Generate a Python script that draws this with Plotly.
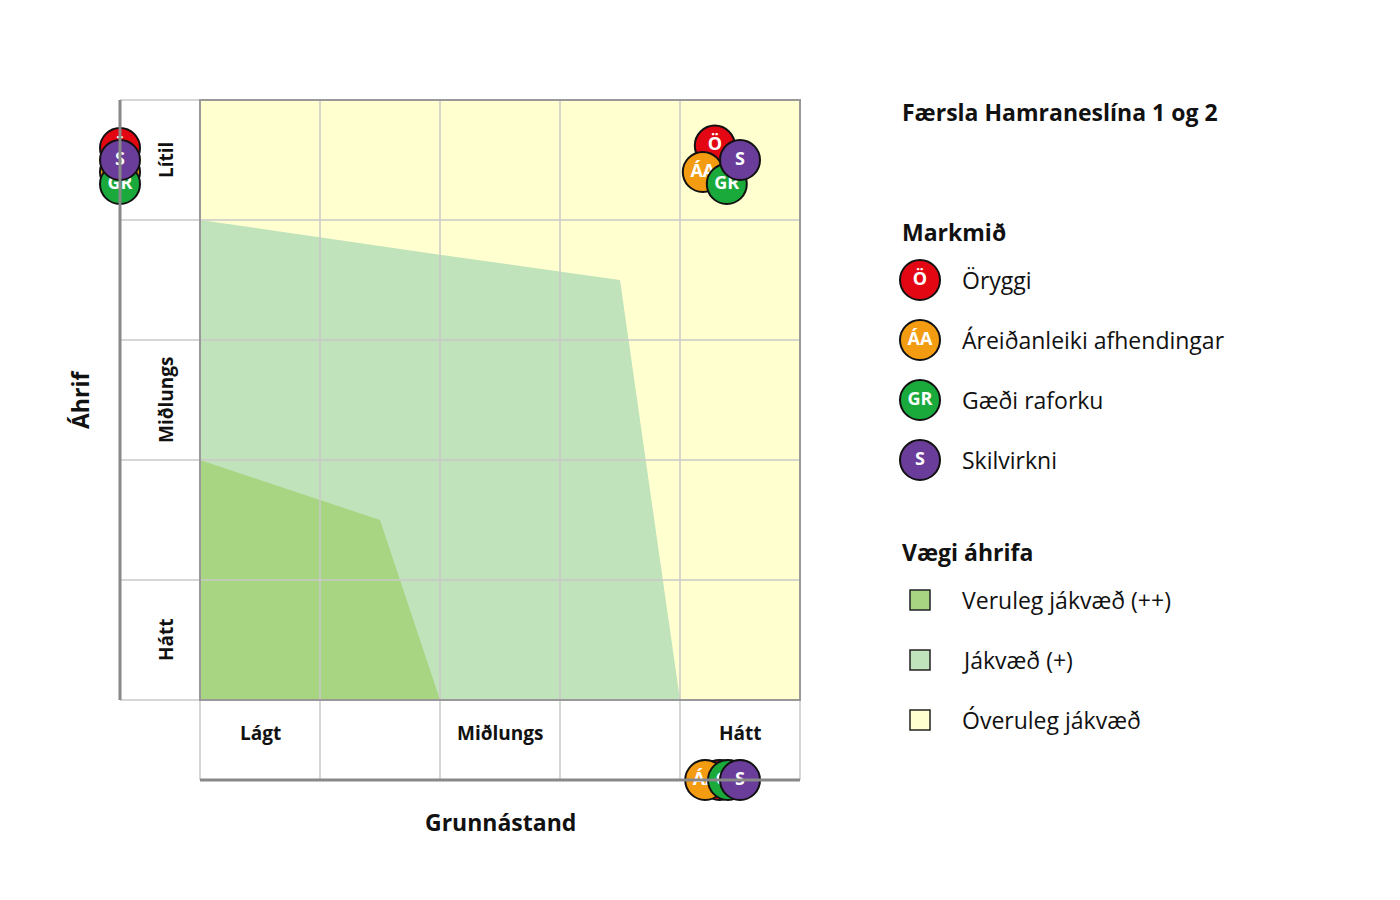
import plotly.graph_objects as go

# ---- data ----
objectives = ["Öryggi", "Áreiðanleiki afhendingar", "Gæði raforku", "Skilvirkni"]
abbrev = ["Ö", "ÁA", "GR", "S"]
colors = ["#e30613", "#f39c12", "#1aaa3c", "#6a3d9a"]
impact_level = [4.5, 4.5, 4.5, 4.5]      # row centre (Lítil)
baseline_level = [4.5, 4.5, 4.5, 4.5]    # column centre (Hátt)
# small display offsets (cells) so overlapping markers stay visible
dx = [-0.21, -0.31, -0.11, 0.0]
dy = [0.12, -0.1, -0.2, 0.0]
rug_dy = [0.1, -0.1, -0.2, 0.0]
rug_dx = [-0.17, -0.29, -0.1, 0.0]
row_labels = ["Hátt", "Miðlungs", "Lítil"]
col_labels = ["Lágt", "Miðlungs", "Hátt"]
weight_labels = ["Veruleg jákvæð (++)", "Jákvæð (+)", "Óveruleg jákvæð"]
weight_colors = ["#a8d582", "#c1e3bb", "#ffffd0"]
dark_poly_x = [0, 0, 1, 1.5, 2]
dark_poly_y = [0, 2, 1.667, 1.5, 0]
light_poly_x = [0, 0, 2, 3.5, 4]
light_poly_y = [0, 4, 3.71, 3.5, 0]

FONT = "Open Sans"
C = 120.0
def X(px): return (px - 200) / C
def Y(py): return (700 - py) / C

fig = go.Figure()
shapes = []
shapes.append(dict(type="rect", x0=0, y0=0, x1=5, y1=5, fillcolor="#ffffd0", line_width=0, layer="below"))
def poly(xs, ys, col):
    path = "M " + " L ".join(f"{a},{b}" for a, b in zip(xs, ys)) + " Z"
    return dict(type="path", path=path, fillcolor=col, line_width=0, layer="below")
shapes.append(poly(light_poly_x, light_poly_y, "#c1e3bb"))
shapes.append(poly(dark_poly_x, dark_poly_y, "#a8d582"))
grey = "#c8c8c8"
for i in range(6):
    shapes.append(dict(type="line", x0=i, x1=i, y0=Y(780), y1=5, line=dict(color=grey, width=1.5)))
    shapes.append(dict(type="line", y0=i, y1=i, x0=X(120), x1=5, line=dict(color=grey, width=1.5)))
shapes.append(dict(type="rect", x0=0, y0=0, x1=5, y1=5, line=dict(color="#999", width=2)))
shapes.append(dict(type="line", x0=0, x1=5, y0=Y(780), y1=Y(780), line=dict(color="#888", width=3)))
shapes.append(dict(type="line", x0=X(120), x1=X(120), y0=0, y1=5, line=dict(color="#888", width=3)))
for k, col in enumerate(weight_colors):
    yc = Y(600 + 60 * k)
    shapes.append(dict(type="rect", x0=X(910), x1=X(930), y0=yc - 10 / C, y1=yc + 10 / C,
                       fillcolor=col, line=dict(color="#222", width=1.5)))

def markers(xs, ys):
    for i in range(len(objectives)):
        fig.add_trace(go.Scatter(x=[xs[i]], y=[ys[i]], mode="markers+text", text=[f"<b>{abbrev[i]}</b>"],
                                 textfont=dict(color="white", size=18, family=FONT),
                                 marker=dict(size=40, color=colors[i], line=dict(color="#111", width=2)),
                                 showlegend=False, hoverinfo="skip"))

markers([b + d for b, d in zip(baseline_level, dx)], [v + d for v, d in zip(impact_level, dy)])
markers([X(120)] * 4, [v + d for v, d in zip(impact_level, rug_dy)])
markers([b + d for b, d in zip(baseline_level, rug_dx)], [Y(780)] * 4)
fig.add_trace(go.Scatter(x=[X(920)] * 4, y=[Y(280 + 60 * k) for k in range(4)], mode="markers+text",
                         text=[f"<b>{a}</b>" for a in abbrev], textfont=dict(color="white", size=18, family=FONT),
                         marker=dict(size=40, color=colors, line=dict(color="#111", width=2)),
                         showlegend=False, hoverinfo="skip"))

ann = []
def t(px, py, s, size=20, bold=False, angle=0, xa="center"):
    ann.append(dict(x=X(px), y=Y(py), text=f"<b>{s}</b>" if bold else s, showarrow=False, textangle=angle,
                    xanchor=xa, yanchor="middle", font=dict(family=FONT, size=size, color="#111")))
for k, s in enumerate(row_labels):
    t(166, 640 - 240 * k, s, 19, True, -90)
for k, s in enumerate(col_labels):
    t(260 + 240 * k, 733, s, 19, True)
t(80, 400, "Áhrif", 23, True, -90)
t(500, 822, "Grunnástand", 23, True)
t(900, 112, "Færsla Hamraneslína 1 og 2", 23, True, xa="left")
t(900, 232, "Markmið", 23, True, xa="left")
t(900, 552, "Vægi áhrifa", 23, True, xa="left")
for k, s in enumerate(objectives):
    t(960, 280 + 60 * k, s, 23, xa="left")
for k, s in enumerate(weight_labels):
    t(960, 600 + 60 * k, s, 23, xa="left")

fig.update_layout(width=1400, height=900, margin=dict(l=0, r=0, t=0, b=0),
                  plot_bgcolor="white", paper_bgcolor="white", shapes=shapes, annotations=ann,
                  xaxis=dict(range=[X(8), X(1408)], visible=False, fixedrange=True),
                  yaxis=dict(range=[Y(908), Y(8)], visible=False, fixedrange=True))
fig.write_html("out.html")
